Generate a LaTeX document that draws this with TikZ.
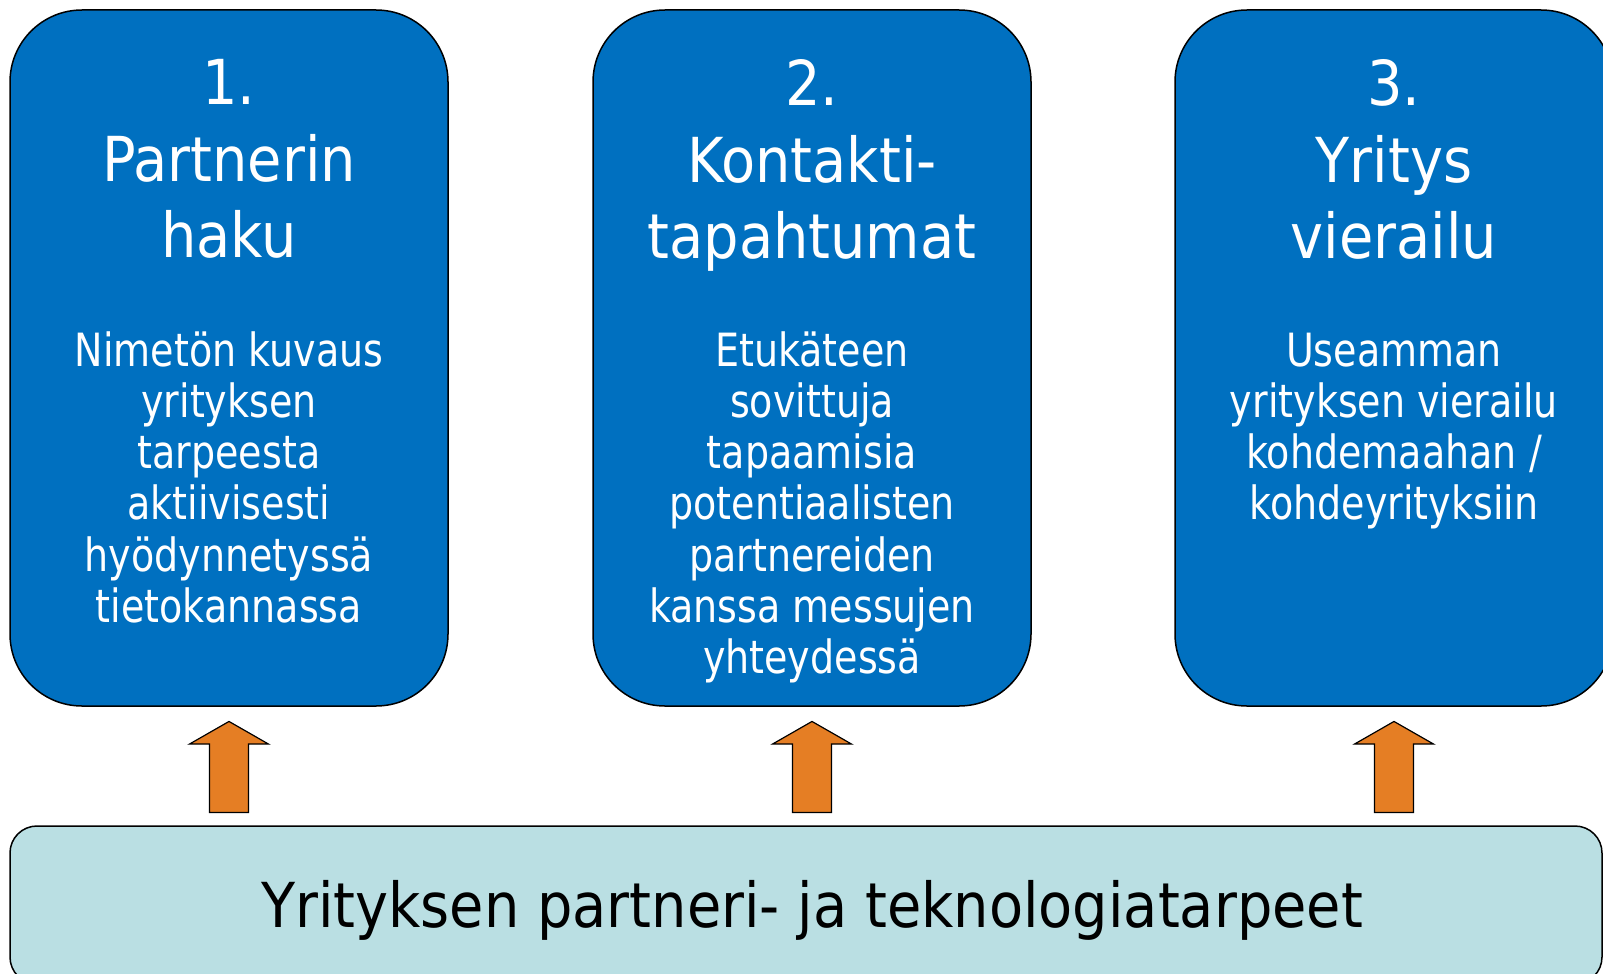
\documentclass[tikz,border=0pt]{standalone}
\usepackage{fontspec}
\setmainfont{DejaVu Sans}[FakeStretch=0.9]
\newfontfamily\bodyfont{DejaVu Sans}[FakeStretch=0.83]
\usetikzlibrary{calc}
\definecolor{boxblue}{HTML}{0070C0}
\definecolor{arroworange}{HTML}{E57E24}
\definecolor{basecyan}{HTML}{BADFE3}
\begin{document}
\begin{tikzpicture}[x=1pt,y=-1pt,
  stepbox/.style={draw=black, line width=1.5pt, fill=boxblue, rounded corners=72pt,
    minimum width=438pt, minimum height=696pt, inner sep=0pt},
  titletext/.style={text=white, font=\fontsize{62}{76.6}\selectfont, align=center,
    anchor=north, inner sep=0pt},
  bodytext/.style={text=white, font=\bodyfont\fontsize{45.8}{51.2}\selectfont, align=center,
    anchor=north, inner sep=0pt},
  uparrow/.style={draw=black, line width=1.2pt, fill=arroworange, line join=miter},
  basebox/.style={draw=black, line width=1.5pt, fill=basecyan, rounded corners=27pt,
    minimum width=1592pt, minimum height=158pt, inner sep=0pt,
    font=\fontsize{62}{76}\selectfont, text height=47pt, text depth=3pt}]
\useasboundingbox (0,0) rectangle (1603,974);
\clip (0,0) rectangle (1603,974);

% boxes
\node[stepbox] (b1) at (229,358) {};
\node[stepbox] (b2) at (812,358) {};
\node[stepbox] (b3) at (1394,358) {};
\node[basebox] (base) at (806,905) {\hspace*{12pt}Yrityksen partneri- ja teknologiatarpeet};

% titles
\node[titletext] (t1) at ($(b1.north)+(0,50)$) {1.\\Partnerin\\haku};
\node[titletext] (t2) at ($(b2.north)+(0,50)$) {2.\\Kontakti-\\tapahtumat};
\node[titletext] (t3) at ($(b3.north)+(0,50)$) {3.\\Yritys\\vierailu};

% bodies
\node[bodytext] (d1) at ($(b1.north)+(0,322)$) {Nimetön kuvaus\\yrityksen\\tarpeesta\\aktiivisesti\\hyödynnetyssä\\tietokannassa};
\node[bodytext] (d2) at ($(b2.north)+(0,322)$) {Etukäteen\\sovittuja\\tapaamisia\\potentiaalisten\\partnereiden\\kanssa messujen\\yhteydessä};
\node[bodytext] (d3) at ($(b3.north)+(0,323.5)$) {Useamman\\yrityksen vierailu\\kohdemaahan /\\kohdeyrityksiin};

% block arrows from base box up to each step box
\foreach \b in {b1,b2,b3}{
  \draw[uparrow] ($(\b.south)+(0,14.7)$) -- ++(39.5,22.6) -- ++(-20,0) -- ++(0,68.4)
    -- ++(-39,0) -- ++(0,-68.4) -- ++(-20,0) -- cycle;
}
\end{tikzpicture}
\end{document}
